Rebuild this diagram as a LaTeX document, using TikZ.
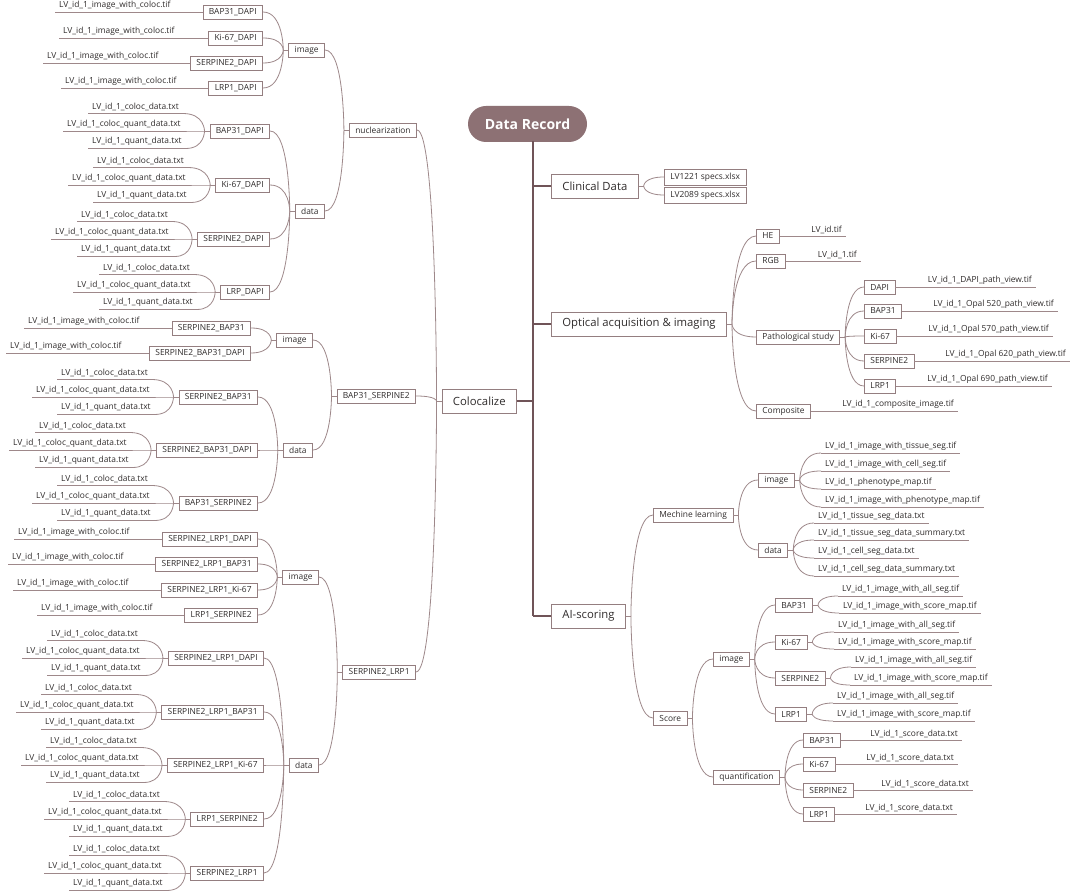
\documentclass[tikz,border=0pt]{standalone}
\usepackage{fontspec}
\setmainfont{Open Sans}
\definecolor{lc}{RGB}{158,136,138}
\definecolor{bc}{RGB}{148,126,128}
\definecolor{tc}{RGB}{48,44,44}
\definecolor{rc}{RGB}{141,113,116}
\definecolor{tk}{RGB}{112,84,88}
\newcommand\fsm{\fontsize{8.4}{10}\selectfont}
\newcommand\fsl{\fontsize{11.3}{13}\selectfont}
\newcommand\fsr{\fontsize{14}{16}\selectfont\bfseries}
\tikzset{
  conn/.style={draw=lc, line width=0.8pt},
  trunk/.style={draw=tk, line width=1.8pt},
  bx/.style={draw=bc, line width=0.8pt, fill=white, font=\fsm, text=tc, inner xsep=6pt, inner ysep=0pt, minimum height=14pt},
  sbx/.style={bx, minimum height=16pt},
  lvl1/.style={bx, font=\fsl, inner xsep=11pt, minimum height=24pt},
  pill/.style={fill=rc, text=white, font=\fsr, rounded corners=18pt, minimum width=119pt, minimum height=36pt},
  lf/.style={font=\fsm, text=tc, inner xsep=4pt, inner ysep=2.5pt,
    append after command={(\tikzlastnode.south west) edge[conn] (\tikzlastnode.south east)}},
}
\newcommand\jL[1]{\draw[conn] (#1.west) -- ++(-5,0) coordinate (#1J);}
\newcommand\jR[1]{\draw[conn] (#1.east) -- ++(5,0) coordinate (#1J);}
\newcommand\cv[2]{\draw[conn] (#1) .. controls (#1) and (#1 |- #2) .. (#2);}
\newcommand\icl[3]{%
  \node[lf,anchor=south west] (#1L) at (#2,#3) {LV\_id\_1\_image\_with\_coloc.tif};
  \draw[conn] (#1L.south east) -- (#1.west);}
\newcommand\trip[4]{%
  \node[lf,anchor=south west] (#1a) at (#3,{#2-17.5}) {LV\_id\_1\_coloc\_data.txt};
  \node[lf,anchor=south west] (#1b) at (#4,#2) {LV\_id\_1\_coloc\_quant\_data.txt};
  \node[lf,anchor=south west] (#1c) at (#3,{#2+17.5}) {LV\_id\_1\_quant\_data.txt};
  \jL{#1}\cv{#1J}{#1a.south east}\cv{#1J}{#1b.south east}\cv{#1J}{#1c.south east}}
\newcommand\sleaf[4]{% box, x, y, text (straight right leaf, anchored at line end)
  \node[lf,anchor=south east] (#1L) at (#2,#3) {#4};
  \draw[conn] (#1.east) -- (#1L.south west);}
\begin{document}
\begin{tikzpicture}[x=1pt,y=-1pt]
\useasboundingbox[fill=white] (0,0) rectangle (1072,893);
% ---------- root and trunk
\node[pill] (root) at (527.5,124) {Data Record};
\coordinate (tt) at (533,141);
\node[lvl1,anchor=west] (clin) at (551,186) {Clinical Data};
\node[lvl1,anchor=west] (opt) at (551,324) {Optical acquisition \& imaging};
\node[lvl1,anchor=west] (ai) at (551,616) {AI-scoring};
\node[lvl1,anchor=east] (colo) at (517,401) {Colocalize};
\draw[trunk] (tt) -- (tt |- ai.west);
\draw[trunk] (tt |- clin.west) -- (clin.west);
\draw[trunk] (tt |- opt.west) -- (opt.west);
\draw[trunk] (tt |- ai.west) -- (ai.west);
\draw[trunk] (colo.east) -- (tt |- colo.east);
% ---------- Clinical data
\node[sbx,anchor=west] (c1) at (664,177) {LV1221 specs.xlsx};
\node[sbx,anchor=west] (c2) at (664,195) {LV2089 specs.xlsx};
\jR{clin}\cv{clinJ}{c1.west}\cv{clinJ}{c2.west}
% ---------- Optical acquisition
\node[bx,anchor=west] (he) at (756,236) {HE};
\node[bx,anchor=west] (rgb) at (756,261) {RGB};
\node[bx,anchor=west] (path) at (756,337) {Pathological study};
\node[bx,anchor=west] (comp) at (756,411) {Composite};
\jR{opt}\cv{optJ}{he.west}\cv{optJ}{rgb.west}\cv{optJ}{path.west}\cv{optJ}{comp.west}
\sleaf{he}{846}{236}{LV\_id.tif}
\sleaf{rgb}{861}{261}{LV\_id\_1.tif}
\sleaf{comp}{958}{411}{LV\_id\_1\_composite\_image.tif}
\node[bx,anchor=west] (pa) at (864,287) {DAPI};
\node[bx,anchor=west] (pb) at (864,311) {BAP31};
\node[bx,anchor=west] (pc) at (864,336) {Ki-67};
\node[bx,anchor=west] (pd) at (864,361) {SERPINE2};
\node[bx,anchor=west] (pe) at (864,386) {LRP1};
\jR{path}\cv{pathJ}{pa.west}\cv{pathJ}{pb.west}\cv{pathJ}{pc.west}\cv{pathJ}{pd.west}\cv{pathJ}{pe.west}
\sleaf{pa}{1036}{287}{LV\_id\_1\_DAPI\_path\_view.tif}
\sleaf{pb}{1058}{311}{LV\_id\_1\_Opal 520\_path\_view.tif}
\sleaf{pc}{1053}{336}{LV\_id\_1\_Opal 570\_path\_view.tif}
\sleaf{pd}{1070}{361}{LV\_id\_1\_Opal 620\_path\_view.tif}
\sleaf{pe}{1052}{386}{LV\_id\_1\_Opal 690\_path\_view.tif}
% ---------- AI-scoring
\node[bx,anchor=west] (ml) at (653,515) {Mechine learning};
\node[bx,anchor=west] (sc) at (653,718) {Score};
\jR{ai}\cv{aiJ}{ml.west}\cv{aiJ}{sc.west}
\node[bx,anchor=west] (mli) at (758,480) {image};
\node[bx,anchor=west] (mld) at (758,550) {data};
\jR{ml}\cv{mlJ}{mli.west}\cv{mlJ}{mld.west}
\node[lf,anchor=south west] (mli1) at (821,453) {LV\_id\_1\_image\_with\_tissue\_seg.tif};
\node[lf,anchor=south west] (mli2) at (821,471) {LV\_id\_1\_image\_with\_cell\_seg.tif};
\node[lf,anchor=south west] (mli3) at (821,489) {LV\_id\_1\_phenotype\_map.tif};
\node[lf,anchor=south west] (mli4) at (821,507) {LV\_id\_1\_image\_with\_phenotype\_map.tif};
\jR{mli}\cv{mliJ}{mli1.south west}\cv{mliJ}{mli2.south west}\cv{mliJ}{mli3.south west}\cv{mliJ}{mli4.south west}
\node[lf,anchor=south west] (mld1) at (814,523) {LV\_id\_1\_tissue\_seg\_data.txt};
\node[lf,anchor=south west] (mld2) at (814,540) {LV\_id\_1\_tissue\_seg\_data\_summary.txt};
\node[lf,anchor=south west] (mld3) at (814,558) {LV\_id\_1\_cell\_seg\_data.txt};
\node[lf,anchor=south west] (mld4) at (814,576) {LV\_id\_1\_cell\_seg\_data\_summary.txt};
\jR{mld}\cv{mldJ}{mld1.south west}\cv{mldJ}{mld2.south west}\cv{mldJ}{mld3.south west}\cv{mldJ}{mld4.south west}
\node[bx,anchor=west] (sci) at (713,659) {image};
\node[bx,anchor=west] (scq) at (713,777) {quantification};
\jR{sc}\cv{scJ}{sci.west}\cv{scJ}{scq.west}
\node[bx,anchor=west] (sa) at (775,605) {BAP31};
\node[bx,anchor=west] (sb) at (775,642) {Ki-67};
\node[bx,anchor=west] (sd) at (775,678) {SERPINE2};
\node[bx,anchor=west] (se) at (775,714) {LRP1};
\jR{sci}\cv{sciJ}{sa.west}\cv{sciJ}{sb.west}\cv{sciJ}{sd.west}\cv{sciJ}{se.west}
\node[lf,anchor=south west] (sa1) at (838,596) {LV\_id\_1\_image\_with\_all\_seg.tif};
\node[lf,anchor=south west] (sa2) at (839,613) {LV\_id\_1\_image\_with\_score\_map.tif};
\jR{sa}\cv{saJ}{sa1.south west}\cv{saJ}{sa2.south west}
\node[lf,anchor=south west] (sb1) at (834,632) {LV\_id\_1\_image\_with\_all\_seg.tif};
\node[lf,anchor=south west] (sb2) at (834,649) {LV\_id\_1\_image\_with\_score\_map.tif};
\jR{sb}\cv{sbJ}{sb1.south west}\cv{sbJ}{sb2.south west}
\node[lf,anchor=south west] (sd1) at (851,667) {LV\_id\_1\_image\_with\_all\_seg.tif};
\node[lf,anchor=south west] (sd2) at (850,685) {LV\_id\_1\_image\_with\_score\_map.tif};
\jR{sd}\cv{sdJ}{sd1.south west}\cv{sdJ}{sd2.south west}
\node[lf,anchor=south west] (se1) at (833,703) {LV\_id\_1\_image\_with\_all\_seg.tif};
\node[lf,anchor=south west] (se2) at (833,721) {LV\_id\_1\_image\_with\_score\_map.tif};
\jR{se}\cv{seJ}{se1.south west}\cv{seJ}{se2.south west}
\node[bx,anchor=west] (qa) at (803,740) {BAP31};
\node[bx,anchor=west] (qb) at (803,764) {Ki-67};
\node[bx,anchor=west] (qc) at (803,790) {SERPINE2};
\node[bx,anchor=west] (qd) at (803,814) {LRP1};
\jR{scq}\cv{scqJ}{qa.west}\cv{scqJ}{qb.west}\cv{scqJ}{qc.west}\cv{scqJ}{qd.west}
\sleaf{qa}{962}{740}{LV\_id\_1\_score\_data.txt}
\sleaf{qb}{958}{764}{LV\_id\_1\_score\_data.txt}
\sleaf{qc}{973}{790}{LV\_id\_1\_score\_data.txt}
\sleaf{qd}{957}{814}{LV\_id\_1\_score\_data.txt}
% ---------- Colocalize
\node[bx,anchor=east] (nuc) at (417,130) {nuclearization};
\node[bx,anchor=east] (bs) at (416,396) {BAP31\_SERPINE2};
\node[bx,anchor=east] (sl) at (416,672) {SERPINE2\_LRP1};
\jL{colo}\cv{coloJ}{nuc.east}\cv{coloJ}{bs.east}\cv{coloJ}{sl.east}
% nuclearization
\node[bx,anchor=east] (ni) at (325,50) {image};
\node[bx,anchor=east] (nd) at (325,211) {data};
\jL{nuc}\cv{nucJ}{ni.east}\cv{nucJ}{nd.east}
\node[bx,anchor=east] (nia) at (263,12) {BAP31\_DAPI};
\node[bx,anchor=east] (nib) at (263,38) {Ki-67\_DAPI};
\node[bx,anchor=east] (nic) at (263,63) {SERPINE2\_DAPI};
\node[bx,anchor=east] (nid) at (263,88) {LRP1\_DAPI};
\jL{ni}\cv{niJ}{nia.east}\cv{niJ}{nib.east}\cv{niJ}{nic.east}\cv{niJ}{nid.east}
\icl{nia}{55}{12}\icl{nib}{59}{38}\icl{nic}{43}{63}\icl{nid}{61}{88}
\node[bx,anchor=east] (nda) at (270,131) {BAP31\_DAPI};
\node[bx,anchor=east] (ndb) at (270,185) {Ki-67\_DAPI};
\node[bx,anchor=east] (ndc) at (270,239) {SERPINE2\_DAPI};
\node[bx,anchor=east] (ndd) at (270,292) {LRP\_DAPI};
\jL{nd}\cv{ndJ}{nda.east}\cv{ndJ}{ndb.east}\cv{ndJ}{ndc.east}\cv{ndJ}{ndd.east}
\trip{nda}{131}{88}{63}\trip{ndb}{185}{93}{68}\trip{ndc}{239}{77}{51}\trip{ndd}{292}{99}{73}
% BAP31_SERPINE2
\node[bx,anchor=east] (bsi) at (313,340) {image};
\node[bx,anchor=east] (bsd) at (313,450) {data};
\jL{bs}\cv{bsJ}{bsi.east}\cv{bsJ}{bsd.east}
\node[bx,anchor=east] (bsia) at (251,328) {SERPINE2\_BAP31};
\node[bx,anchor=east] (bsib) at (251,353) {SERPINE2\_BAP31\_DAPI};
\jL{bsi}\cv{bsiJ}{bsia.east}\cv{bsiJ}{bsib.east}
\icl{bsia}{24}{328}\icl{bsib}{6}{353}
\node[bx,anchor=east] (bsda) at (258,397) {SERPINE2\_BAP31};
\node[bx,anchor=east] (bsdb) at (258,450) {SERPINE2\_BAP31\_DAPI};
\node[bx,anchor=east] (bsdc) at (258,503) {BAP31\_SERPINE2};
\jL{bsd}\cv{bsdJ}{bsda.east}\cv{bsdJ}{bsdb.east}\cv{bsdJ}{bsdc.east}
\trip{bsda}{397}{57}{32}\trip{bsdb}{450}{35}{9}\trip{bsdc}{503}{57}{32}
% SERPINE2_LRP1
\node[bx,anchor=east] (sli) at (319,577) {image};
\node[bx,anchor=east] (sld) at (319,765) {data};
\jL{sl}\cv{slJ}{sli.east}\cv{slJ}{sld.east}
\node[bx,anchor=east] (slia) at (258,539) {SERPINE2\_LRP1\_DAPI};
\node[bx,anchor=east] (slib) at (258,564) {SERPINE2\_LRP1\_BAP31};
\node[bx,anchor=east] (slic) at (258,590) {SERPINE2\_LRP1\_Ki-67};
\node[bx,anchor=east] (slid) at (258,615) {LRP1\_SERPINE2};
\jL{sli}\cv{sliJ}{slia.east}\cv{sliJ}{slib.east}\cv{sliJ}{slic.east}\cv{sliJ}{slid.east}
\icl{slia}{14}{539}\icl{slib}{8}{564}\icl{slic}{13}{590}\icl{slid}{37}{615}
\node[bx,anchor=east] (slda) at (264,658) {SERPINE2\_LRP1\_DAPI};
\node[bx,anchor=east] (sldb) at (264,712) {SERPINE2\_LRP1\_BAP31};
\node[bx,anchor=east] (sldc) at (264,765) {SERPINE2\_LRP1\_Ki-67};
\node[bx,anchor=east] (sldd) at (264,819) {LRP1\_SERPINE2};
\node[bx,anchor=east] (slde) at (264,873) {SERPINE2\_LRP1};
\jL{sld}\cv{sldJ}{slda.east}\cv{sldJ}{sldb.east}\cv{sldJ}{sldc.east}\cv{sldJ}{sldd.east}\cv{sldJ}{slde.east}
\trip{slda}{658}{47}{22}\trip{sldb}{712}{41}{16}\trip{sldc}{765}{46}{21}\trip{sldd}{819}{69}{44}\trip{slde}{873}{69}{44}
\end{tikzpicture}
\end{document}
